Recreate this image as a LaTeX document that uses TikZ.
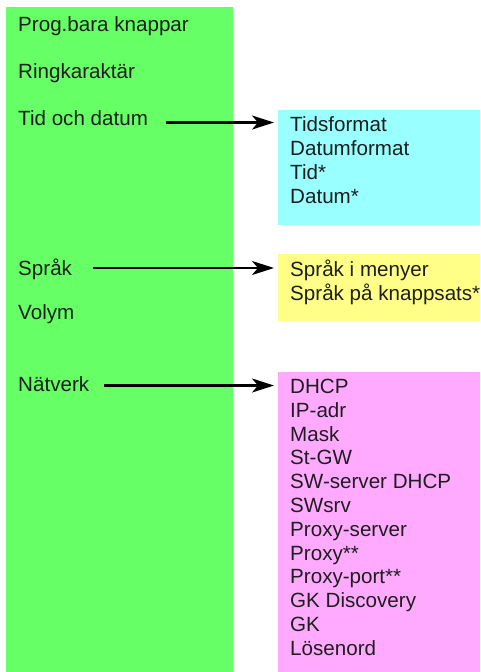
\documentclass[tikz,border=0pt]{standalone}
\usepackage{fontspec}
\setmainfont{Liberation Sans}
\usetikzlibrary{arrows.meta}
\definecolor{gmenu}{RGB}{102,255,102}
\definecolor{cbox}{RGB}{153,255,255}
\definecolor{ybox}{RGB}{255,255,136}
\definecolor{pbox}{RGB}{255,170,255}
\definecolor{ink}{RGB}{30,30,30}
\begin{document}
\begin{tikzpicture}[x=1pt,y=-1pt,
  lbl/.style={anchor=base west,inner sep=0pt,text=ink,font=\fontsize{20.6}{23.8}\selectfont},
  lst/.style={anchor=north west,inner sep=0pt,text=ink,align=left,font=\fontsize{20.6}{23.8}\selectfont},
  arr/.style={line width=2.2pt,-{Stealth[length=22pt,width=14pt,inset=6pt]}}]
\useasboundingbox (0,0) rectangle (480,672);
\begin{scope}
\clip (0,0) rectangle (480,672);
\fill[gmenu] (6,7) rectangle (233,672);
\fill[cbox] (278,110) rectangle (480,225);
\fill[ybox] (278,254) rectangle (480,321);
\fill[pbox] (278,372) rectangle (480,672);
\node[lbl] (prog) at (18,31) {Prog.bara knappar};
\node[lbl] (ring) at (18,78) {Ringkaraktär};
\node[lbl] (tid) at (18,125) {Tid och datum};
\node[lbl] (sprak) at (18,275) {Språk};
\node[lbl] (volym) at (18,319) {Volym};
\node[lbl] (natv) at (18,391) {Nätverk};
\node[lst] (tidlist) at (290,116.5) {Tidsformat\\Datumformat\\Tid*\\Datum*};
\node[lst] (spraklist) at (290,260) {Språk i menyer\\Språk på knappsats*};
\node[lst] (natlist) at (290,379) {DHCP\\IP-adr\\Mask\\St-GW\\SW-server DHCP\\SWsrv\\Proxy-server\\Proxy**\\Proxy-port**\\GK Discovery\\GK\\Lösenord};
\coordinate (t1) at (166,122.5);
\coordinate (t2) at (274,122.5);
\coordinate (s1) at (93,268);
\coordinate (s2) at (274,268);
\coordinate (n1) at (104,385.5);
\coordinate (n2) at (274,385.5);
\draw[arr] (t1) -- (t2);
\draw[arr] (s1) -- (s2);
\draw[arr] (n1) -- (n2);
\end{scope}
\end{tikzpicture}
\end{document}
